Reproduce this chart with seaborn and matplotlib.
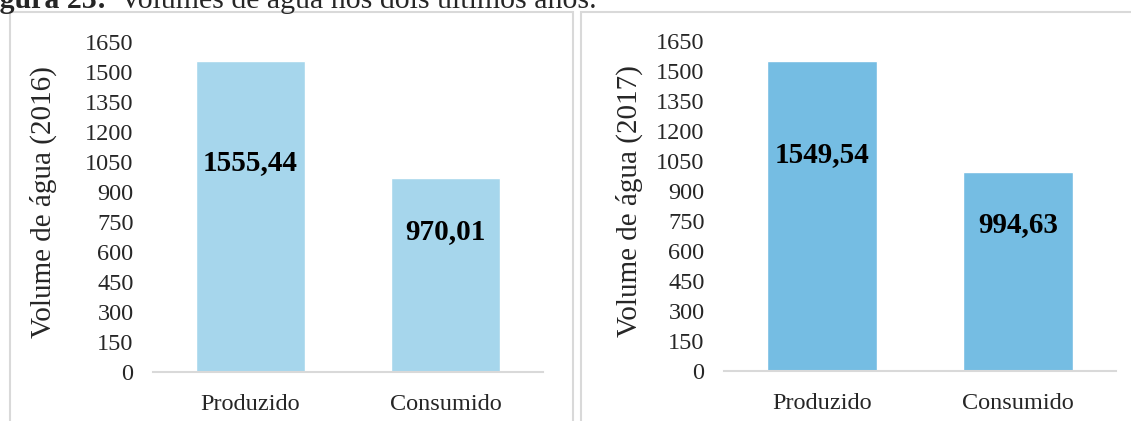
import matplotlib
matplotlib.use("Agg")
import matplotlib.pyplot as plt
from matplotlib.patches import Rectangle
import seaborn as sns
import pandas as pd

# Data
categories = ["Produzido", "Consumido"]
volumes_2016 = [1555.44, 970.01]
volumes_2017 = [1549.54, 994.63]
years = ["2016", "2017"]
y_ticks = list(range(0, 1651, 150))

sns.set_theme(style="white")
plt.rcParams["font.family"] = ["Liberation Serif", "DejaVu Serif"]

W, H = 1131, 421
fig = plt.figure(figsize=(W / 100, H / 100), dpi=100)

border = "#D9D9D9"
# panel frames
fig.patches.append(Rectangle((10 / W, -0.05), 563 / W, 1.05 - 12 / H,
                             transform=fig.transFigure, fill=False,
                             edgecolor=border, linewidth=1.5))
fig.patches.append(Rectangle((581 / W, -0.05), 600 / W, 1.05 - 12 / H,
                             transform=fig.transFigure, fill=False,
                             edgecolor=border, linewidth=1.5))

# caption (runs off the top of the canvas)
fig.text(-27 / W, 1 - 8 / H, "Figura 23:", fontsize=21.5, fontweight="bold",
         ha="left", va="baseline")
fig.text(120 / W, 1 - 8 / H, "Volumes de água nos dois últimos anos.",
         fontsize=21.5, ha="left", va="baseline")

panels = [
    dict(values=volumes_2016, year=years[0], color="#A6D6EC",
         rect=[153 / W, 49 / H, 390 / W, 330 / H], label_x=-0.246,
         label_frac=[0.672, 0.722]),
    dict(values=volumes_2017, year=years[1], color="#75BDE3",
         rect=[724 / W, 50 / H, 392 / W, 330 / H], label_x=-0.207,
         label_frac=[0.697, 0.735]),
]

for p in panels:
    ax = fig.add_axes(p["rect"])
    df = pd.DataFrame({"cat": categories, "val": p["values"]})
    sns.barplot(data=df, x="cat", y="val", color=p["color"], saturation=1,
                width=0.56, ax=ax)
    ax.set_ylim(0, 1650)
    ax.set_yticks(y_ticks)
    ax.set_yticklabels([str(t) for t in y_ticks], fontsize=17.5)
    ax.tick_params(axis="y", length=0, pad=14)
    ax.tick_params(axis="x", length=0, pad=16, labelsize=17.5)
    ax.set_xlabel("")
    ax.set_ylabel(f"Volume de água ({p['year']})", fontsize=21)
    ax.yaxis.set_label_coords(p["label_x"], 0.515)
    for side in ["top", "right", "left"]:
        ax.spines[side].set_visible(False)
    ax.spines["bottom"].set_color(border)
    ax.spines["bottom"].set_linewidth(1.5)
    ax.set_facecolor("none")
    ax.grid(False)
    for i, v in enumerate(p["values"]):
        ax.text(i, v * p["label_frac"][i], f"{v:.2f}".replace(".", ","),
                ha="center", va="center", fontsize=21, fontweight="bold",
                color="black")

fig.savefig("out.png", dpi=100)
